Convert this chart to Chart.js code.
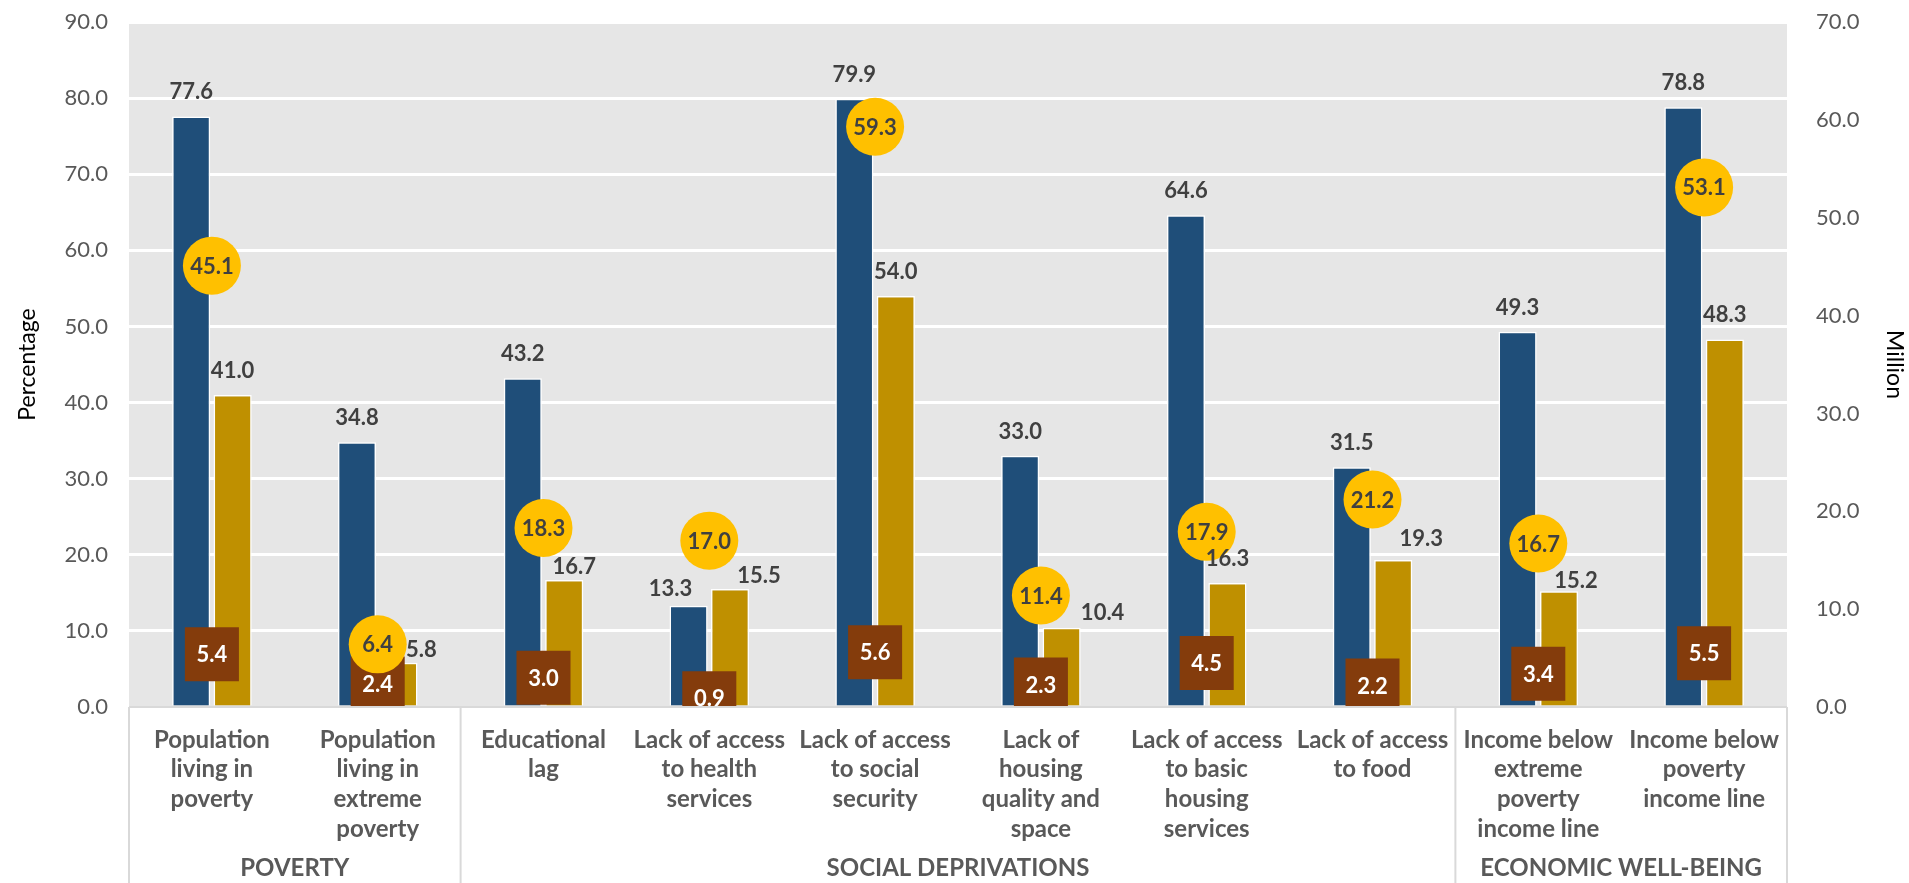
<!DOCTYPE html>
<html lang="en">
<head>
  <meta charset="UTF-8">
  <title>Poverty indicators</title>
  <script src="https://cdn.jsdelivr.net/npm/chart.js"></script>
  <style>
    html, body { margin: 0; padding: 0; background: #fff; }
    canvas { display: block; }
  </style>
</head>
<body>
  <canvas id="grafica" width="1909" height="883"></canvas>

  <script>
    // Categories (multi-line labels) and their groups
    var categorias = [
      ['Population', 'living in', 'poverty'],
      ['Population', 'living in', 'extreme', 'poverty'],
      ['Educational', 'lag'],
      ['Lack of access', 'to health', 'services'],
      ['Lack of access', 'to social', 'security'],
      ['Lack of', 'housing', 'quality and', 'space'],
      ['Lack of access', 'to basic', 'housing', 'services'],
      ['Lack of access', 'to food'],
      ['Income below', 'extreme', 'poverty', 'income line'],
      ['Income below', 'poverty', 'income line']
    ];
    var grupos = ['POVERTY', 'SOCIAL DEPRIVATIONS', 'ECONOMIC WELL-BEING'];
    var tamanoGrupos = [2, 6, 2];

    // Percentages (left axis)
    var porcentajeAzul = [77.6, 34.8, 43.2, 13.3, 79.9, 33.0, 64.6, 31.5, 49.3, 78.8];
    var porcentajeOro = [41.0, 5.8, 16.7, 15.5, 54.0, 10.4, 16.3, 19.3, 15.2, 48.3];

    // Millions of people (right axis)
    var millonesCirculo = [45.1, 6.4, 18.3, 17.0, 59.3, 11.4, 17.9, 21.2, 16.7, 53.1];
    var millonesCuadro = [5.4, 2.4, 3.0, 0.9, 5.6, 2.3, 4.5, 2.2, 3.4, 5.5];

    var FUENTE = 'Lato, "Open Sans", sans-serif';

    // small nudges for bar labels that would collide with the circles
    var desplazaEtiqueta = {
      azul: { 3: [-18, 7] },
      oro: { 1: [23, 11], 2: [10, 11], 3: [29, 11], 5: [41, 9], 7: [28, 3], 8: [17, 14] }
    };

    // Gray plot background, category separators and group titles
    var fondoYGrupos = {
      id: 'fondoYGrupos',
      beforeDraw: function (chart) {
        var a = chart.chartArea, ctx = chart.ctx;
        ctx.save();
        ctx.fillStyle = '#E6E6E6';
        ctx.fillRect(a.left, a.top, a.right - a.left, a.bottom - a.top);
        ctx.restore();
      },
      afterDraw: function (chart) {
        var ctx = chart.ctx, a = chart.chartArea, x = chart.scales.x;
        var ancho = x.getPixelForValue(1) - x.getPixelForValue(0);
        ctx.save();
        ctx.strokeStyle = '#D9D9D9';
        ctx.lineWidth = 2;
        ctx.beginPath();
        ctx.moveTo(a.left, a.bottom);
        ctx.lineTo(a.right, a.bottom);
        ctx.stroke();
        var inicio = 0;
        var bordes = [x.getPixelForValue(0) - ancho / 2];
        ctx.fillStyle = '#595959';
        ctx.font = 'bold 24px ' + FUENTE;
        ctx.textAlign = 'center';
        ctx.textBaseline = 'middle';
        tamanoGrupos.forEach(function (n, g) {
          var x0 = x.getPixelForValue(inicio) - ancho / 2;
          var x1 = x.getPixelForValue(inicio + n - 1) + ancho / 2;
          bordes.push(x1);
          ctx.fillText(grupos[g], (x0 + x1) / 2, 868);
          inicio += n;
        });
        ctx.beginPath();
        bordes.forEach(function (bx) {
          ctx.moveTo(bx, a.bottom);
          ctx.lineTo(bx, chart.height);
        });
        ctx.stroke();
        ctx.restore();
      }
    };

    // Value labels for bars, circles and squares
    var etiquetasValor = {
      id: 'etiquetasValor',
      afterDatasetsDraw: function (chart) {
        var ctx = chart.ctx;
        ctx.save();
        ctx.textAlign = 'center';
        ctx.textBaseline = 'middle';
        ctx.font = 'bold 22px ' + FUENTE;
        chart.data.datasets.forEach(function (ds, i) {
          var meta = chart.getDatasetMeta(i);
          meta.data.forEach(function (el, j) {
            var texto = ds.data[j].toFixed(1);
            var px = el.x, py = el.y;
            if (ds.type === 'bar') {
              var d = (desplazaEtiqueta[ds.clave] || {})[j] || [0, 0];
              px += d[0];
              py += -25 + d[1];
            }
            ctx.fillStyle = ds.colorEtiqueta;
            ctx.fillText(texto, px, py + 1);
          });
        });
        ctx.restore();
      }
    };

    // vertical axes: fixed width and no extra room for the end labels
    function ajustaEje(ancho) {
      return function (s) {
        s.width = ancho;
        s.paddingTop = 0;
        s.paddingBottom = 0;
      };
    }

    var grafica = new Chart(document.getElementById('grafica'), {
      data: {
        labels: categorias,
        datasets: [
          {
            type: 'line', label: 'Millions (circle)', clave: 'circulo',
            data: millonesCirculo, yAxisID: 'y1', showLine: false, order: 0,
            pointStyle: 'circle', pointRadius: 29, pointBorderWidth: 0,
            pointBackgroundColor: '#FFC000', colorEtiqueta: '#404040'
          },
          {
            type: 'line', label: 'Millions (square)', clave: 'cuadro',
            data: millonesCuadro, yAxisID: 'y1', showLine: false, order: 1,
            pointStyle: 'rect', pointRadius: 38.2, pointBorderWidth: 0,
            pointBackgroundColor: '#843C0C', colorEtiqueta: '#FFFFFF'
          },
          {
            type: 'bar', label: 'Percentage A', clave: 'azul',
            data: porcentajeAzul, yAxisID: 'y', order: 2,
            backgroundColor: '#1F4E79', borderColor: '#FFFFFF', borderWidth: 1.5,
            barPercentage: 0.92, categoryPercentage: 0.5, colorEtiqueta: '#404040'
          },
          {
            type: 'bar', label: 'Percentage B', clave: 'oro',
            data: porcentajeOro, yAxisID: 'y', order: 2,
            backgroundColor: '#BF9000', borderColor: '#FFFFFF', borderWidth: 1.5,
            barPercentage: 0.92, categoryPercentage: 0.5, colorEtiqueta: '#404040'
          }
        ]
      },
      options: {
        responsive: false,
        animation: false,
        events: [],
        layout: { autoPadding: false, padding: { top: 22, left: 0, right: 0, bottom: 0 } },
        plugins: {
          legend: { display: false },
          tooltip: { enabled: false }
        },
        scales: {
          x: {
            grid: { display: false },
            border: { display: false },
            ticks: {
              autoSkip: false, maxRotation: 0, minRotation: 0, padding: 10,
              color: '#595959',
              font: { family: FUENTE, size: 24, weight: 'bold', lineHeight: 1.24 }
            },
            afterFit: function (s) { s.height = 176; }
          },
          y: {
            position: 'left', min: 0, max: 90,
            grid: {
              drawTicks: false, lineWidth: 3,
              color: function (c) { return c.tick.value === 0 ? 'rgba(0,0,0,0)' : '#FFFFFF'; }
            },
            border: { display: false },
            ticks: {
              stepSize: 10, padding: 21, color: '#595959',
              font: { family: FUENTE, size: 22 },
              callback: function (v) { return v.toFixed(1); }
            },
            title: {
              display: true, text: 'Percentage', color: '#000',
              font: { family: FUENTE, size: 23 }, padding: { top: 14, bottom: 0 }
            },
            afterFit: ajustaEje(129)
          },
          y1: {
            position: 'right', min: 0, max: 70,
            grid: { display: false },
            border: { display: false },
            ticks: {
              stepSize: 10, padding: 21, color: '#595959',
              font: { family: FUENTE, size: 22 },
              callback: function (v) { return v.toFixed(1); }
            },
            title: {
              display: true, text: 'Million', color: '#000',
              font: { family: FUENTE, size: 23 }, padding: { top: 1, bottom: 0 }
            },
            afterFit: ajustaEje(122)
          }
        }
      },
      plugins: [fondoYGrupos, etiquetasValor]
    });
  </script>
</body>
</html>
